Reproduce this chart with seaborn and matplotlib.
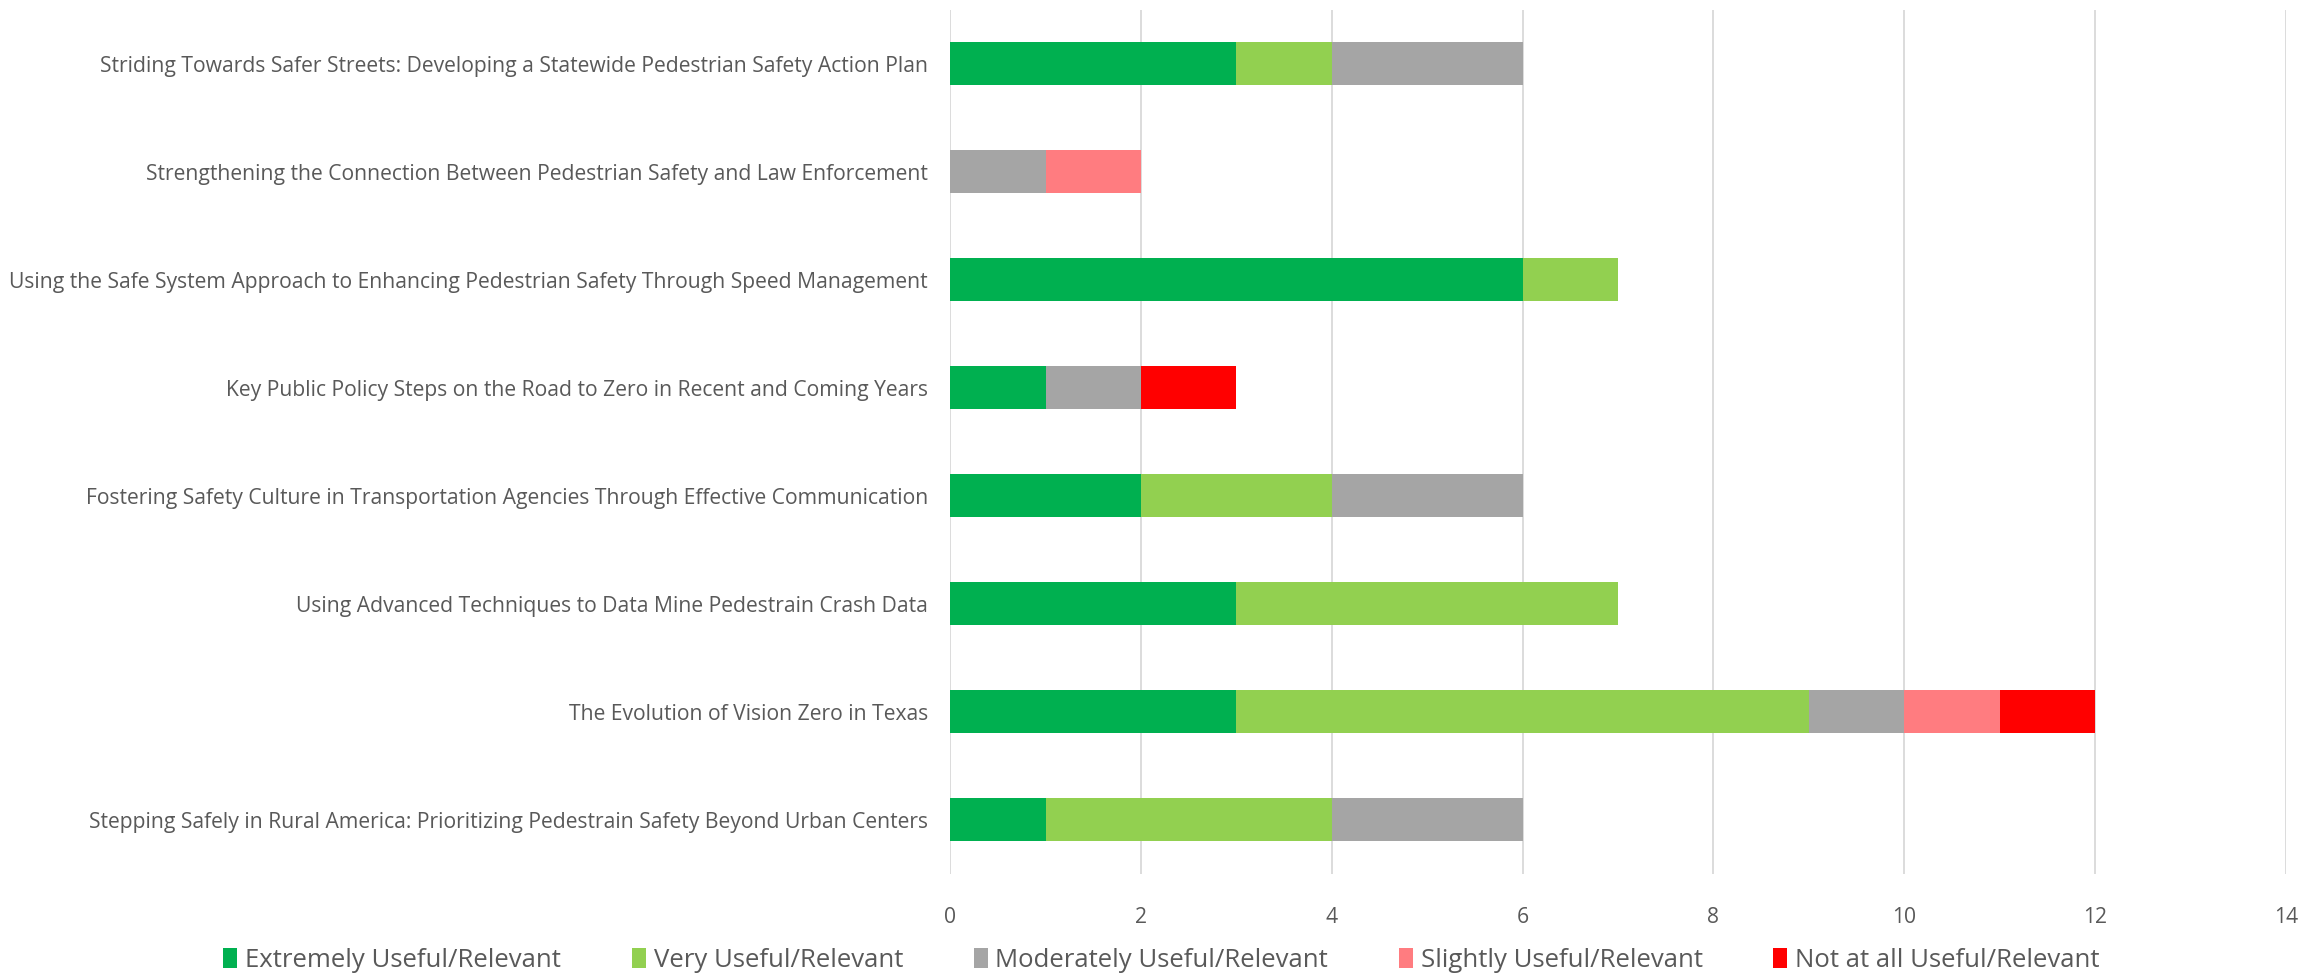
import numpy as np
import pandas as pd
import matplotlib.pyplot as plt
import seaborn as sns
from matplotlib.patches import Patch

sessions = [
    'Striding Towards Safer Streets: Developing a Statewide Pedestrian Safety Action Plan',
    'Strengthening the Connection Between Pedestrian Safety and Law Enforcement',
    'Using the Safe System Approach to Enhancing Pedestrian Safety Through Speed Management',
    'Key Public Policy Steps on the Road to Zero in Recent and Coming Years',
    'Fostering Safety Culture in Transportation Agencies Through Effective Communication',
    'Using Advanced Techniques to Data Mine Pedestrain Crash Data',
    'The Evolution of Vision Zero in Texas',
    'Stepping Safely in Rural America: Prioritizing Pedestrain Safety Beyond Urban Centers',
]
ratings = ['Extremely Useful/Relevant', 'Very Useful/Relevant', 'Moderately Useful/Relevant',
           'Slightly Useful/Relevant', 'Not at all Useful/Relevant']
extremely = [3, 0, 6, 1, 2, 3, 3, 1]
very = [1, 0, 1, 0, 2, 4, 6, 3]
moderately = [2, 1, 0, 1, 2, 0, 1, 2]
slightly = [0, 1, 0, 0, 0, 0, 1, 0]
not_at_all = [0, 0, 0, 1, 0, 0, 1, 0]
colors = ['#00B050', '#92D050', '#A5A5A5', '#FF7C80', '#FF0000']

sns.set_theme(style='white')
plt.rcParams['font.family'] = ['Open Sans', 'DejaVu Sans']
text_col = '#595959'

df = pd.DataFrame({'session': sessions})
series = [extremely, very, moderately, slightly, not_at_all]
cum = np.cumsum(np.array(series), axis=0)

fig = plt.figure(figsize=(23.23, 9.74), dpi=100)
ax = fig.add_axes([0.409, 0.103, 0.575, 0.887])

# draw cumulative totals from the longest down so each segment shows
for i in range(len(ratings) - 1, -1, -1):
    df['val'] = cum[i]
    sns.barplot(data=df, x='val', y='session', color=colors[i], width=0.4,
                saturation=1, linewidth=0, ax=ax, zorder=2, order=sessions)

ax.set_xlim(0, 14)
ax.set_xticks(range(0, 15, 2))
ax.xaxis.grid(True, color='#D9D9D9', linewidth=1.3, zorder=0)
ax.set_axisbelow(True)
ax.set_xlabel('')
ax.set_ylabel('')
for s in ax.spines.values():
    s.set_visible(False)
ax.tick_params(axis='both', length=0, colors=text_col, labelsize=15.2)
ax.tick_params(axis='y', pad=16)
ax.tick_params(axis='x', pad=24)

handles = [Patch(facecolor=c, edgecolor='none') for c in colors]
fig.legend(handles, ratings, loc='center', bbox_to_anchor=(0.5, 0.014), ncol=5,
           frameon=False, fontsize=18.5, handlelength=0.55, handleheight=0.8,
           handletextpad=0.3, columnspacing=2.75, labelcolor=text_col)

fig.savefig('out.png', dpi=100)
